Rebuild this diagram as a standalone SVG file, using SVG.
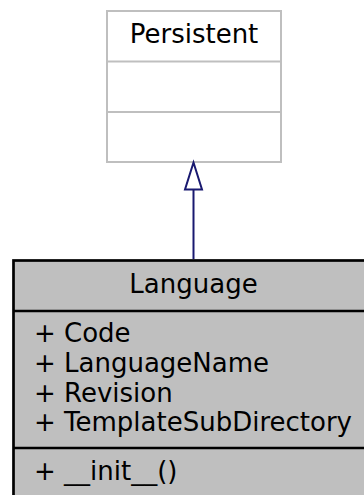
<svg xmlns="http://www.w3.org/2000/svg" width="364" height="495" viewBox="0 0 364 495">
<style>
text{font-family:"DejaVu Sans",sans-serif;font-size:26px;fill:#000}
.c{text-anchor:middle}
.pbox{fill:#fff;stroke:#bfbfbf;stroke-width:2}
.lbox{fill:#bfbfbf;stroke:#000;stroke-width:2.7}
.edge{stroke:#191970;stroke-width:2;fill:none}
</style>
<g id="Persistent">
<rect class="pbox" x="107" y="11" width="174" height="151"/>
<line x1="107" y1="61.5" x2="281" y2="61.5" stroke="#bfbfbf" stroke-width="2"/>
<line x1="107" y1="112" x2="281" y2="112" stroke="#bfbfbf" stroke-width="2"/>
<text class="c" x="194" y="43">Persistent</text>
</g>
<g id="Language">
<rect class="lbox" x="13.5" y="260.5" width="362" height="250"/>
<line x1="13.5" y1="311" x2="375" y2="311" stroke="#000" stroke-width="2.7"/>
<line x1="13.5" y1="448" x2="375" y2="448" stroke="#000" stroke-width="2.7"/>
<text class="c" x="193.5" y="293">Language</text>
<text x="34" y="342">+ Code</text>
<text x="34" y="372">+ LanguageName</text>
<text x="34" y="402">+ Revision</text>
<text x="34" y="431">+ TemplateSubDirectory</text>
<text x="34" y="480">+ __init__()</text>
</g>
<g id="edges">
<line class="edge" x1="193.5" y1="259" x2="193.5" y2="189"/>
<path d="M193.5,162.5 L202,189.5 L185,189.5 Z" fill="#fff" stroke="#191970" stroke-width="2"/>
</g>
</svg>
